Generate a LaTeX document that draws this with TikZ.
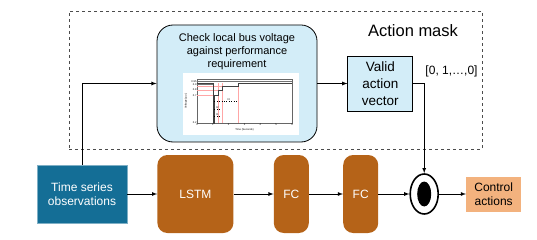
\documentclass[tikz,border=0pt]{standalone}
\usepackage{fontspec}
\setmainfont{Liberation Sans}
\usetikzlibrary{shapes,arrows,positioning}
\definecolor{lblue}{RGB}{211,237,248}
\definecolor{tealb}{RGB}{20,110,150}
\definecolor{brownb}{RGB}{181,99,24}
\definecolor{peach}{RGB}{243,178,126}
\tikzstyle{chk}=[rectangle,draw,line width=0.8pt,rounded corners=16pt,fill=lblue,minimum width=160pt,minimum height=117pt,inner sep=0pt]
\tikzstyle{vec}=[rectangle,draw,line width=0.8pt,fill=lblue,align=center,minimum width=65pt,minimum height=55pt,inner sep=0pt,font=\fontsize{13.5}{17}\selectfont]
\tikzstyle{obs}=[rectangle,draw=tealb!55,fill=tealb,text=white,align=center,minimum width=90pt,minimum height=58pt,inner sep=0pt,font=\fontsize{12}{14.5}\selectfont]
\tikzstyle{net}=[rectangle,rounded corners=10pt,fill=brownb,text=white,minimum height=78pt,inner sep=0pt,font=\fontsize{12}{14}\selectfont]
\tikzstyle{res}=[rectangle,fill=peach,align=center,minimum width=55pt,minimum height=35pt,inner sep=0pt,font=\fontsize{12}{14}\selectfont]
\tikzstyle{dot}=[ellipse,draw,line width=1.6pt,fill=white,minimum width=28pt,minimum height=40pt,inner sep=0pt]
\tikzstyle{tinyf}=[inner sep=0.3pt,font=\fontsize{2.6}{3}\selectfont]
\tikzstyle{arr}=[-latex,line width=0.8pt]

\begin{document}
\begin{tikzpicture}[x=1pt,y=-1pt]
\useasboundingbox (0,0) rectangle (537,240);
\node[rectangle,draw=black!70,dashed,line width=0.6pt,minimum width=413pt,minimum height=138pt] (AM) at (275.5,80) {};
\node[font=\fontsize{16.5}{19}\selectfont] (AMT) at (413,31) {Action mask};
\node[chk] (CHK) at (237,83.5) {};
\node[font=\fontsize{11}{13}\selectfont,align=center,anchor=north,inner sep=0pt] (CT) at ([yshift=-9pt]CHK.north) {Check local bus voltage\\against performance\\requirement};
\node[vec, right=30pt of CHK] (VAV) {Valid\\action\\vector};
\node[font=\fontsize{12}{14}\selectfont] (VEC) at (451.5,71) {[0, 1,…,0]};
\fill[white] (183,73) rectangle (299,135);
\begin{scope}[shift={(197,123)},x=15.83pt,y=55pt]
\draw[line width=0.3pt,black!60] (0,0) rectangle (6,0.8);
\draw[red!35,line width=0.3pt] (0,0.6) -- (1.35,0.6);
\draw[red!35,line width=0.3pt] (0,0.5) -- (1.1,0.5);
\draw[red!35,line width=0.3pt] (0,0.67) -- (1.6,0.67);
\draw[red!35,line width=0.3pt] (1.35,0) -- (1.35,0.72);
\draw[red!35,line width=0.3pt] (1.6,0) -- (1.6,0.72);
\draw[red!35,line width=0.3pt] (2.6,0) -- (2.6,0.72);
\draw[black!55,line width=0.5pt] (0,0.76) -- (6,0.76);
\draw[black!55,line width=0.5pt] (0,0.7) -- (1.05,0.7) -- (1.05,0);
\draw[black!75,line width=0.5pt] (0,0.72) -- (1,0.72) -- (1,0) -- (1.1,0) -- (1.1,0.5) -- (1.35,0.5) -- (1.35,0.6) -- (1.6,0.6) -- (1.6,0.67) -- (2.6,0.67) -- (2.6,0.72) -- (6,0.72);
\draw[dotted,line width=0.4pt] (1.1,0.4) -- (2.6,0.4);
\draw[dotted,line width=0.4pt] (1.1,0.25) -- (1.45,0.25);
\draw[dotted,line width=0.4pt] (1.1,0.12) -- (1.45,0.12);
\foreach \t in {0,...,6}
  \node[tinyf,below] (TK\t) at (\t,0) {\t};
\node[tinyf,left] (Y1) at (0,0.75) {0.95};
\node[tinyf,left] (Y2) at (0,0.7) {0.9};
\node[tinyf,left] (Y3) at (0,0.6) {0.8};
\node[tinyf,left] (Y4) at (0,0.5) {0.7};
\node[tinyf,left] (Y5) at (0,0) {0.2};
\node[tinyf] (T1) at (2,0.42) {t3};
\node[tinyf] (T2) at (1.3,0.28) {t2};
\node[tinyf] (T3) at (1.3,0.15) {t1};
\node[tinyf,below=2pt of TK3] (XL) {Time (Seconds)};
\node[tinyf,rotate=90] (YL) at (-0.7,0.4) {Voltage (p.u.)};
\end{scope}
\node[obs] (TS) at (82,194) {Time series\\observations};
\node[net, minimum width=76pt, right=30pt of TS] (LSTM) {LSTM};
\node[net, minimum width=35pt, right=40pt of LSTM] (FC1) {FC};
\node[net, minimum width=35pt, right=34pt of FC1] (FC2) {FC};
\node[dot, right=31pt of FC2] (M) {};
\node[ellipse,fill=black,minimum width=14pt,minimum height=25pt,inner sep=0pt] (MD) at (M) {};
\node[res, right=27pt of M] (CA) {Control\\actions};
\draw[arr] (TS.north) |- (CHK.west);
\draw[arr] (CHK) -- (VAV);
\draw[arr] (VAV.east) -| (M.north);
\draw[arr] (TS) -- (LSTM);
\draw[arr] (LSTM) -- (FC1);
\draw[arr] (FC1) -- (FC2);
\draw[arr] (FC2) -- (M);
\draw[arr] (M) -- (CA);
\end{tikzpicture}
\end{document}
